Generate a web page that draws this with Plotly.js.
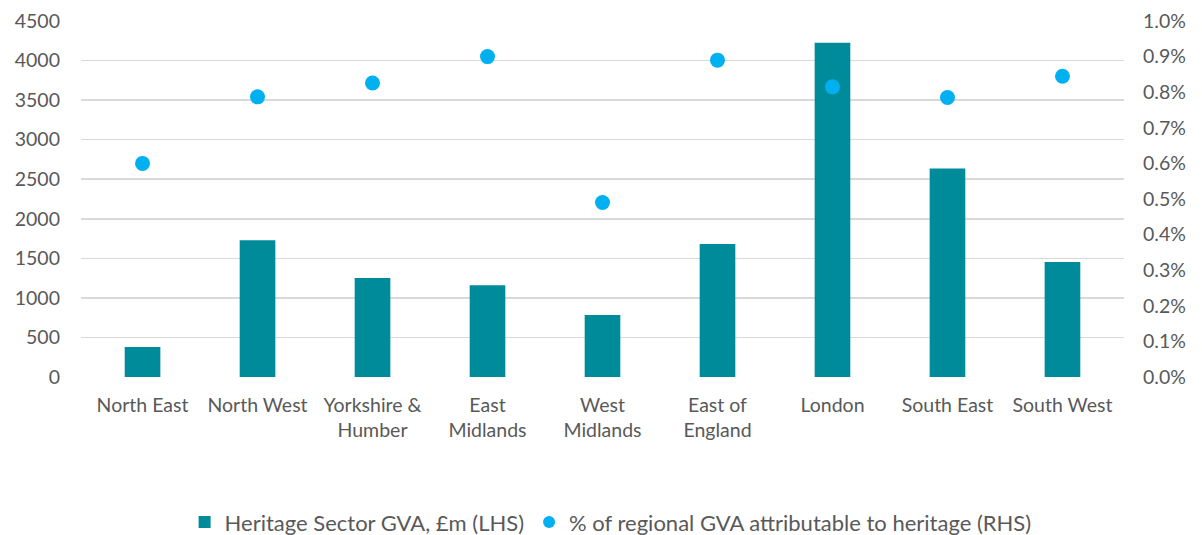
<!DOCTYPE html>
<html>
<head>
<meta charset="utf-8">
<script src="https://cdn.plot.ly/plotly-3.0.1.min.js"></script>
<style>html,body{margin:0;padding:0;background:#fff}#chart{width:1202px;height:535px}</style>
</head>
<body>
<div id="chart"></div>
<script>
const regions = ["North East", "North West", "Yorkshire &<br>Humber", "East<br>Midlands", "West<br>Midlands", "East of<br>England", "London", "South East", "South West"];
const gvaMillions = [380, 1730, 1250, 1160, 785, 1680, 4225, 2635, 1455];
const heritageShare = [0.0060, 0.00787, 0.00826, 0.00900, 0.00490, 0.00890, 0.00815, 0.00785, 0.00845];
const leftTicks = [0, 500, 1000, 1500, 2000, 2500, 3000, 3500, 4000, 4500];
const rightTicks = [0, 0.001, 0.002, 0.003, 0.004, 0.005, 0.006, 0.007, 0.008, 0.009, 0.010];

const font = {family: "Lato, 'Open Sans', sans-serif", size: 19.5, color: "#595959"};
const legendFont = {family: "Lato, 'Open Sans', sans-serif", size: 22, color: "#595959"};

const traces = [
  {type: "bar", x: regions, y: gvaMillions, name: "Heritage Sector GVA, £m (LHS)",
   marker: {color: "#008B9A"}, yaxis: "y", hoverinfo: "x+y"},
  {type: "scatter", mode: "markers", x: regions, y: heritageShare, name: "% of regional GVA attributable to heritage (RHS)",
   marker: {color: "#00B0F0", size: 15}, yaxis: "y2"}
];

const layout = {
  width: 1202, height: 535,
  margin: {l: 81, r: 78, t: 21, b: 158},
  paper_bgcolor: "#fff", plot_bgcolor: "#fff",
  font: font,
  bargap: 0.69,
  showlegend: true,
  legend: {orientation: "h", x: 0.508, xanchor: "center", xref: "container",
           y: 0.024, yref: "container", yanchor: "middle",
           font: legendFont, itemsizing: "constant", traceorder: "normal", itemwidth: 30},
  xaxis: {type: "category", showgrid: false, zeroline: false, showline: false,
          ticks: "", tickfont: font, automargin: false, ticklabelstandoff: 14},
  yaxis: {range: [0, 4500], tickvals: leftTicks, ticktext: leftTicks.map(String),
          showgrid: true, gridcolor: "#D9D9D9", gridwidth: 1.5, zeroline: false,
          showline: false, ticks: "", tickfont: font, ticklabelstandoff: 20, automargin: false},
  yaxis2: {range: [0, 0.010], overlaying: "y", side: "right", tickvals: rightTicks,
           ticktext: rightTicks.map(v => (v * 100).toFixed(1) + "%"),
           showgrid: false, zeroline: false, showline: false, ticks: "",
           tickfont: font, ticklabelstandoff: 18, automargin: false}
};

Plotly.newPlot("chart", traces, layout, {displayModeBar: false, staticPlot: true});
</script>
</body>
</html>
